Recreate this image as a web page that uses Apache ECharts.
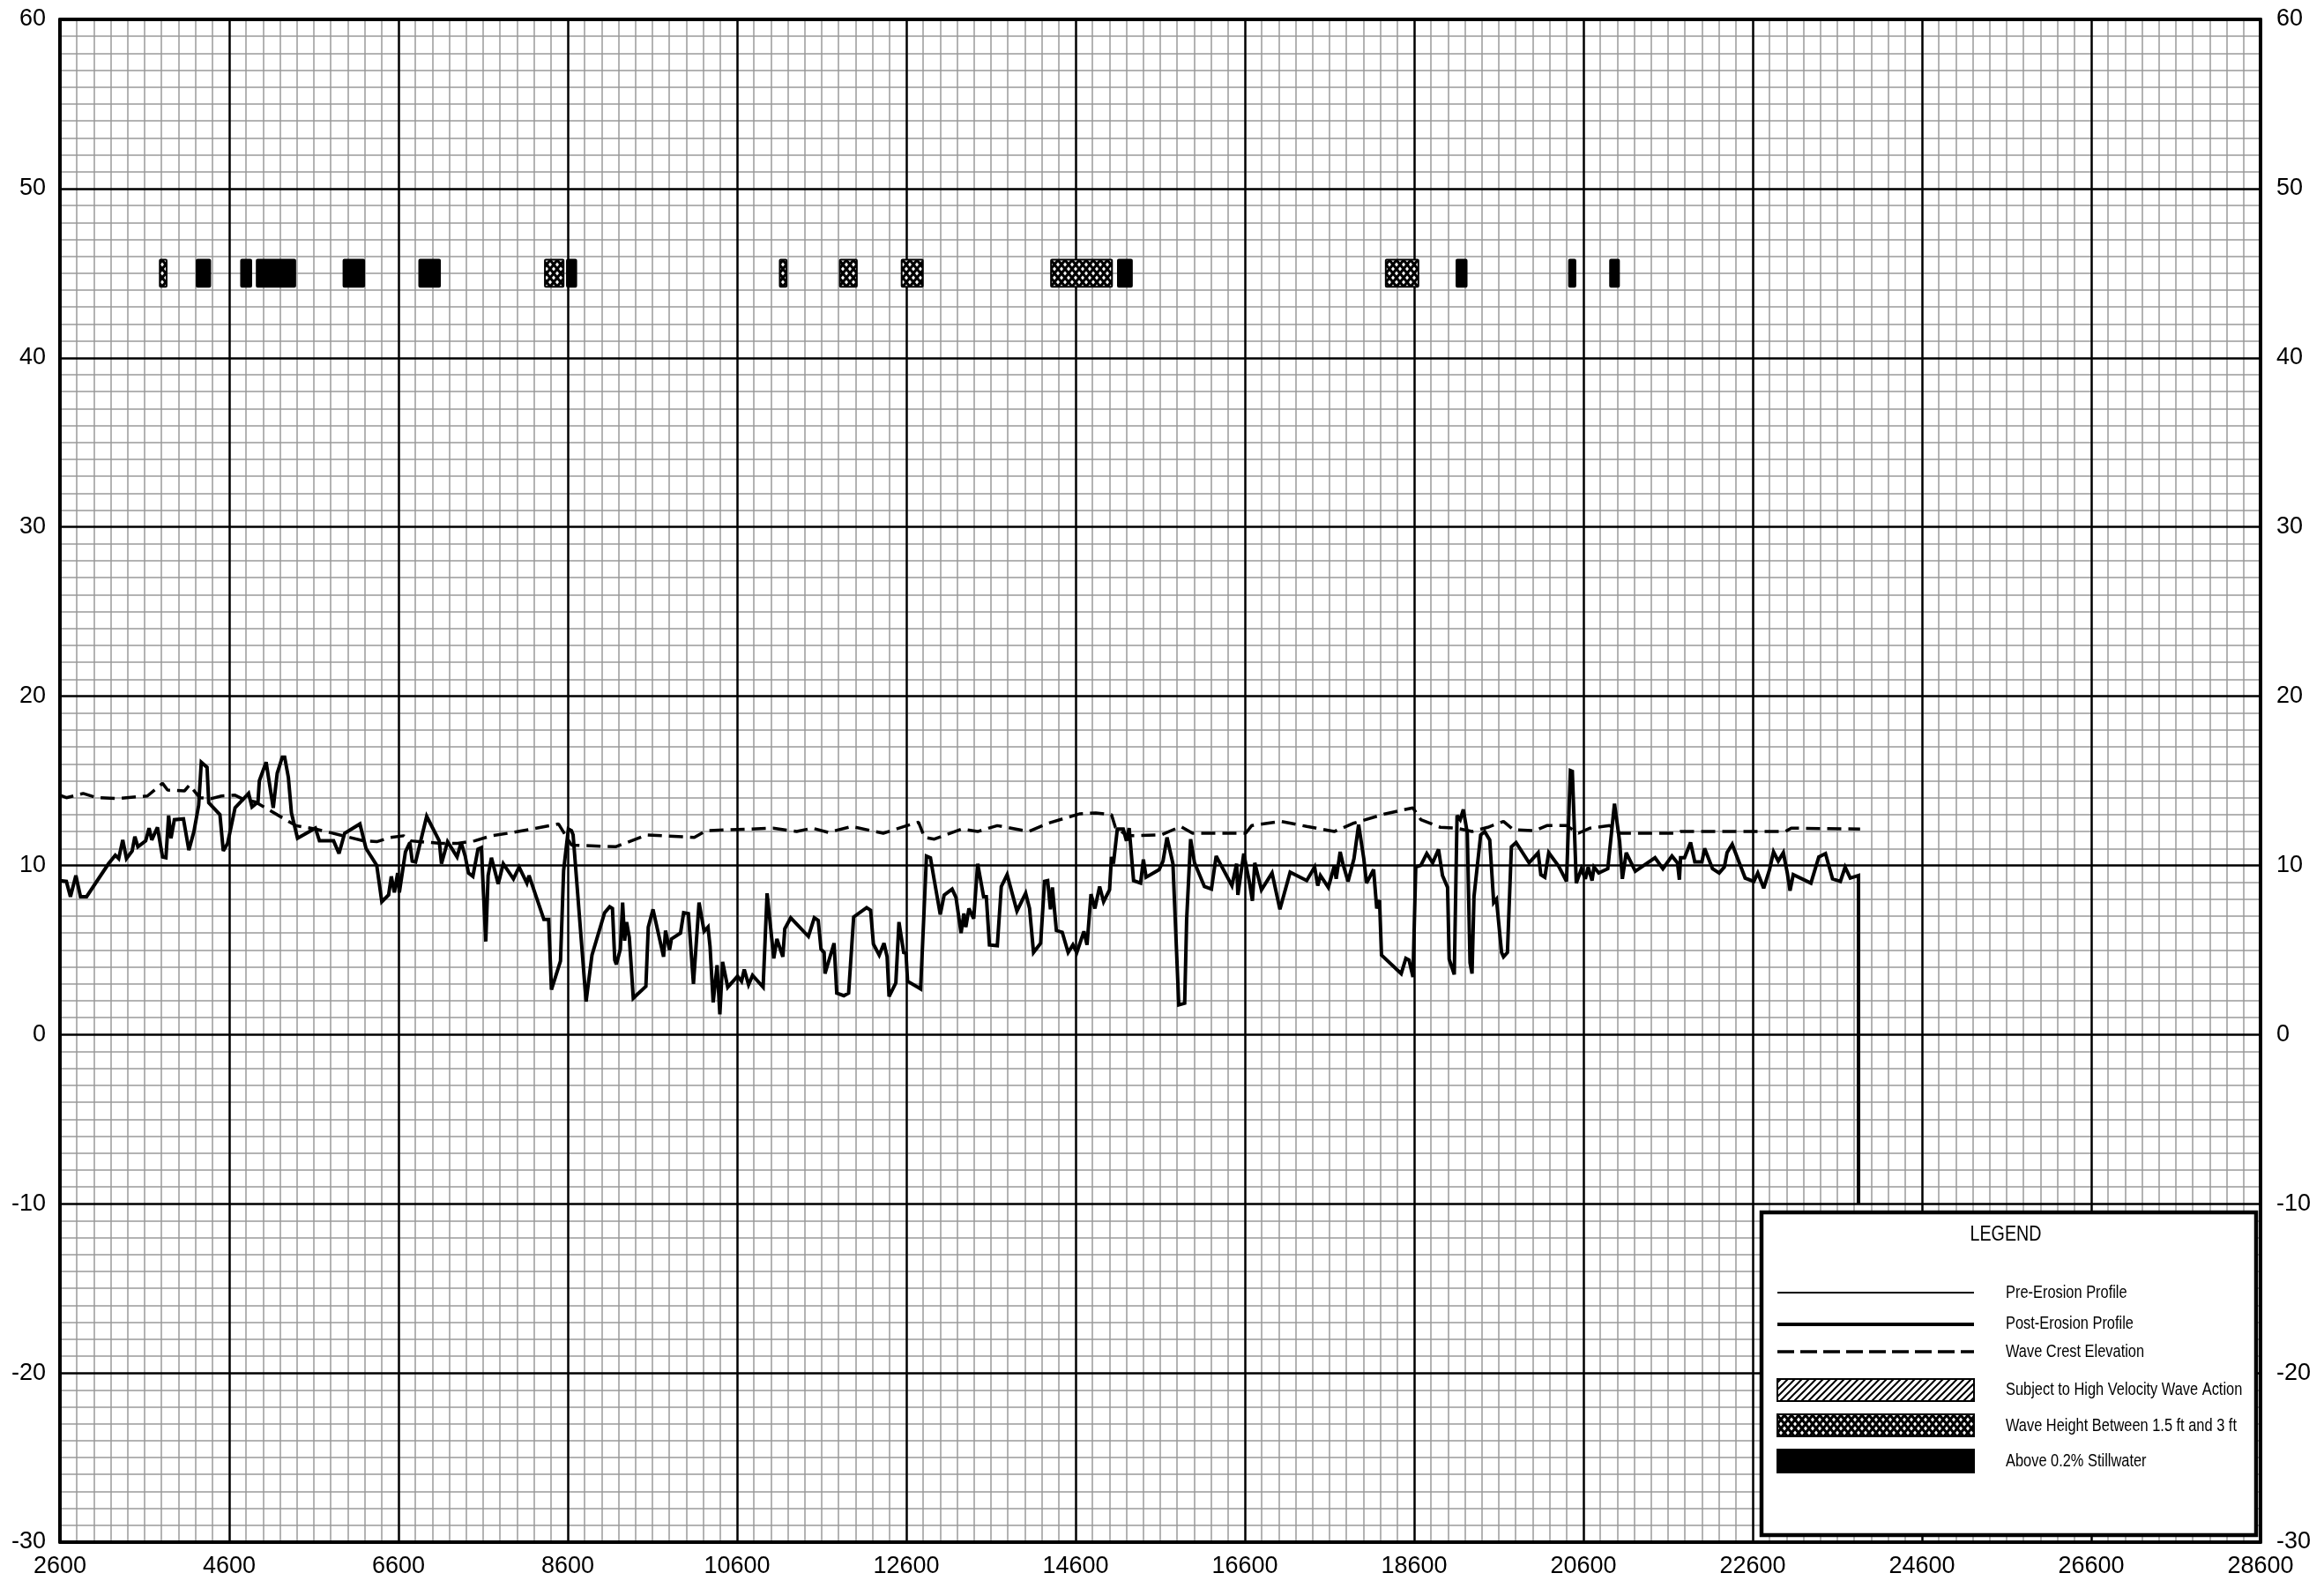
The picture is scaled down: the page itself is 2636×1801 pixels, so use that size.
<!DOCTYPE html>
<html><head><meta charset="utf-8">
<script src="https://cdn.jsdelivr.net/npm/echarts@6/dist/echarts.min.js"></script>
<style>html,body{margin:0;padding:0;background:#fff}#c{width:2636px;height:1801px}</style>
</head><body><div id="c"></div>
<script>
// ---------- DATA ----------
const xRange = [2600, 28600];
const yRange = [-30, 60];
const xStep = 2000;
const yStep = 10;

const postErosion = [
[2600,9.1],[2676,9.05],[2724,8.15],[2788,9.4],[2843,8.15],[2915,8.15],[3174,10.1],[3254,10.6],[3294,10.4],[3342,11.5],
[3386,10.4],[3453,10.85],[3485,11.7],[3521,11.1],[3613,11.45],[3653,12.2],[3685,11.5],[3752,12.25],[3812,10.5],[3852,10.45],
[3884,12.95],[3912,11.6],[3952,12.7],[4059,12.75],[4123,10.9],[4183,12.0],[4239,13.55],[4270,16.1],[4338,15.8],[4358,13.7],
[4490,13.0],[4530,10.85],[4581,11.3],[4669,13.4],[4829,14.25],[4869,13.45],[4940,13.75],[4956,15.0],[5036,16.1],[5120,13.4],
[5167,15.45],[5227,16.4],[5255,16.4],[5299,15.2],[5335,13.1],[5407,11.6],[5618,12.2],[5666,11.45],[5833,11.45],[5897,10.7],
[5964,11.9],[6144,12.45],[6216,11.0],[6343,10.0],[6403,7.85],[6483,8.25],[6515,9.35],[6551,8.4],[6590,9.55],[6610,8.4],
[6682,10.8],[6734,11.35],[6762,10.25],[6802,10.2],[6933,12.9],[7081,11.45],[7108,10.1],[7180,11.4],[7292,10.5],[7340,11.35],
[7388,10.55],[7427,9.55],[7479,9.35],[7539,10.95],[7579,11.05],[7631,5.5],[7659,9.4],[7698,10.45],[7778,8.9],[7838,10.1],
[7958,9.2],[8025,9.9],[8117,8.95],[8142,9.4],[8318,6.8],[8374,6.8],[8407,2.65],[8514,4.35],[8551,9.7],[8607,12.15],
[8644,12.05],[8663,11.8],[8816,1.95],[8886,4.7],[9035,7.2],[9095,7.55],[9128,7.45],[9155,4.4],[9174,4.15],[9221,5.05],
[9248,7.8],[9272,5.55],[9295,6.65],[9327,5.75],[9374,2.15],[9523,2.85],[9551,6.35],[9607,7.4],[9732,4.6],[9755,6.15],
[9802,5.0],[9825,5.65],[9932,6.0],[9969,7.2],[10025,7.15],[10085,3.0],[10151,7.8],[10211,6.1],[10257,6.35],[10281,5.2],
[10318,1.9],[10364,4.1],[10397,1.2],[10429,4.3],[10490,2.8],[10606,3.45],[10653,3.15],[10685,3.85],[10736,2.95],[10783,3.5],
[10908,2.8],[10955,8.35],[11034,4.5],[11071,5.65],[11141,4.6],[11164,6.25],[11234,6.9],[11443,5.8],[11513,6.9],[11559,6.75],
[11592,5.05],[11629,4.85],[11639,3.6],[11746,5.4],[11778,2.45],[11862,2.3],[11918,2.45],[11978,6.95],[12131,7.5],[12178,7.35],
[12211,5.35],[12280,4.7],[12336,5.4],[12373,4.6],[12396,2.25],[12476,3.05],[12513,6.65],[12569,4.85],[12596,4.8],[12615,3.15],
[12769,2.7],[12838,10.55],[12885,10.45],[12931,9.1],[13001,7.1],[13047,8.25],[13141,8.6],[13187,8.1],[13247,6.0],[13280,7.15],
[13303,6.35],[13340,7.45],[13396,6.85],[13443,10.1],[13513,8.15],[13545,8.15],[13582,5.3],[13675,5.25],[13722,8.75],[13791,9.45],
[13907,7.3],[14010,8.35],[14056,7.45],[14103,4.85],[14187,5.4],[14233,9.05],[14270,9.1],[14303,7.4],[14326,8.7],[14373,6.15],
[14442,6.05],[14512,4.85],[14568,5.3],[14614,4.85],[14698,6.1],[14735,5.3],[14782,8.3],[14828,7.45],[14884,8.75],[14931,7.85],
[15001,8.55],[15024,10.5],[15047,10.1],[15093,12.15],[15163,12.15],[15201,11.45],[15233,12.2],[15285,9.1],[15368,8.95],[15401,10.35],
[15433,9.3],[15587,9.75],[15633,10.25],[15680,11.65],[15750,10.1],[15819,1.75],[15889,1.85],[15912,6.8],[15959,11.55],[16005,10.15],
[16122,8.75],[16205,8.6],[16261,10.55],[16447,8.8],[16503,10.1],[16517,8.25],[16587,10.7],[16656,8.95],[16689,7.9],[16717,10.15],
[16796,8.55],[16921,9.55],[17014,7.4],[17135,9.6],[17331,9.1],[17424,9.9],[17461,8.8],[17493,9.4],[17586,8.7],[17656,9.95],
[17679,9.2],[17726,10.8],[17758,10.1],[17819,9.05],[17889,10.4],[17944,12.4],[18005,10.4],[18037,8.95],[18121,9.75],[18158,7.45],
[18191,7.95],[18214,4.7],[18447,3.6],[18502,4.5],[18540,4.4],[18586,3.4],[18619,9.9],[18679,10.0],[18749,10.7],[18819,10.15],
[18888,10.95],[18935,9.4],[18995,8.7],[19014,4.45],[19074,3.55],[19107,12.95],[19144,12.7],[19181,13.3],[19228,11.9],[19260,4.25],
[19284,3.6],[19307,8.15],[19386,11.8],[19433,12.0],[19493,11.5],[19540,7.8],[19572,8.0],[19633,4.85],[19656,4.6],[19702,4.85],
[19749,11.1],[19804,11.35],[19958,10.15],[20065,10.75],[20097,9.45],[20144,9.3],[20190,10.75],[20307,9.95],[20400,9.05],[20446,15.6],
[20469,15.55],[20516,8.95],[20576,9.8],[20623,9.2],[20656,9.9],[20702,9.1],[20725,9.9],[20781,9.55],[20888,9.8],[20967,13.65],
[21028,11.4],[21060,9.2],[21106,10.75],[21213,9.65],[21446,10.45],[21539,9.8],[21646,10.55],[21711,10.15],[21734,9.15],[21748,10.45],
[21795,10.45],[21866,11.35],[21916,10.2],[22000,10.2],[22032,11.0],[22125,9.8],[22204,9.55],[22265,9.9],[22297,10.75],[22358,11.25],
[22511,9.25],[22613,9.05],[22660,9.55],[22730,8.65],[22799,9.75],[22846,10.8],[22902,10.25],[22962,10.75],[23009,9.55],[23041,8.5],
[23079,9.45],[23288,8.95],[23381,10.5],[23460,10.7],[23543,9.2],[23636,9.05],[23692,9.9],[23753,9.25],[23850,9.4],[23850,-10]
];

const waveCrest = [
[2600,14.15],[2676,14.0],[2875,14.25],[3035,14.0],[3274,13.95],[3633,14.1],[3812,14.85],[3872,14.45],[4071,14.4],[4131,14.75],
[4251,14.0],[4390,13.95],[4510,14.1],[4669,14.15],[4769,13.9],[4908,13.75],[5387,12.35],[5618,12.15],[5945,11.75],[6184,11.45],
[6343,11.4],[6503,11.65],[6662,11.75],[6742,11.45],[7100,11.3],[7300,11.3],[7500,11.45],[7699,11.75],[7898,11.9],[8177,12.15],
[8490,12.45],[8644,11.2],[9165,11.1],[9537,11.8],[10095,11.65],[10234,12.05],[11025,12.2],[11304,12.0],[11490,12.2],[11676,11.95],
[11955,12.3],[12327,11.9],[12606,12.35],[12745,12.55],[12815,11.65],[12931,11.55],[13257,12.15],[13443,12.0],[13675,12.35],[14047,12.0],
[14280,12.5],[14652,13.05],[14838,13.1],[15024,13.0],[15070,12.25],[15210,11.75],[15610,11.8],[15843,12.3],[15982,11.9],[16610,11.9],
[16680,12.35],[17028,12.6],[17331,12.3],[17656,12.0],[17889,12.5],[18261,13.05],[18586,13.4],[18679,12.7],[18912,12.25],[19098,12.2],
[19284,12.0],[19470,12.25],[19656,12.6],[19773,12.1],[20028,12.05],[20168,12.35],[20400,12.35],[20540,11.9],[20679,12.2],[20912,12.35],
[21028,11.9],[21702,11.9],[21748,12.0],[22985,12.0],[23055,12.2],[23869,12.15]
];

// zone bars: [start, end]
const zoneBand = [44.2, 45.8];
const waveHeightZones = [[3780,3860],[8330,8550],[11105,11185],[11815,12015],[12545,12795],[14310,15030],[18265,18650]];
const stillwaterZones = [[4215,4375],[4740,4860],[4925,5380],[5950,6195],[6845,7090],[8590,8700],[15100,15265],[19100,19220],[20430,20505],[20915,21020]];

const legendTitle = 'LEGEND';
const legendLabels = ['Pre-Erosion Profile','Post-Erosion Profile','Wave Crest Elevation','Subject to High Velocity Wave Action','Wave Height Between 1.5 ft and 3 ft','Above 0.2% Stillwater'];

// ---------- PATTERNS ----------
function crossTile(){
  const c = document.createElement('canvas'); c.width = 8; c.height = 10;
  const g = c.getContext('2d');
  g.fillStyle = '#000'; g.fillRect(0,0,8,10);
  g.fillStyle = '#fff';
  const dia = (cx,cy)=>{ g.beginPath(); g.moveTo(cx-2,cy); g.lineTo(cx,cy-2.6); g.lineTo(cx+2,cy); g.lineTo(cx,cy+2.6); g.closePath(); g.fill(); };
  dia(4,5); dia(0,0); dia(8,0); dia(0,10); dia(8,10);
  return c;
}
function hatchTile(){
  const c = document.createElement('canvas'); c.width = 8; c.height = 8;
  const g = c.getContext('2d');
  g.fillStyle = '#fff'; g.fillRect(0,0,8,8);
  g.strokeStyle = '#000'; g.lineWidth = 2;
  g.beginPath();
  g.moveTo(-2,10); g.lineTo(10,-2);
  g.moveTo(-6,6); g.lineTo(6,-6);
  g.moveTo(2,14); g.lineTo(14,2);
  g.stroke();
  return c;
}
const crossPattern = {image: crossTile(), repeat: 'repeat'};
const hatchPattern = {image: hatchTile(), repeat: 'repeat'};

const FONT = "'Liberation Sans',Arial,sans-serif";

const chart = echarts.init(document.getElementById('c'), null, {renderer: 'canvas'});

function zoneData(list, kind){ return list.map(z => [z[0], z[1], zoneBand[0], zoneBand[1], kind]); }

function renderZone(params, api){
  const p0 = api.coord([api.value(0), api.value(3)]);
  const p1 = api.coord([api.value(1), api.value(2)]);
  const kind = api.value(4);
  const fill = kind === 1 ? crossPattern : (kind === 2 ? hatchPattern : '#000');
  return {type: 'rect', shape: {x: p0[0], y: p0[1], width: p1[0]-p0[0], height: p1[1]-p0[1], r: 1},
    style: {fill: fill, stroke: '#000', lineWidth: 2}};
}

const axisLineStyle = {show: true, onZero: false, lineStyle: {color: '#000', width: 4}};
const labelStyle = {color: '#000', fontSize: 27, fontFamily: FONT};

// legend graphics
const LX = 2016, LW = 223, TX = 2275;
const legendGraphics = [
  {type:'rect', shape:{x:1998, y:1375, width:561, height:366}, style:{fill:'#fff', stroke:'#000', lineWidth:4.5}, z:10},
  {type:'text', x:2275, y:1400, scaleX:0.82, style:{text: legendTitle, font: '24px '+FONT, fill:'#000', align:'center', verticalAlign:'middle'}, z:11},
  {type:'line', shape:{x1:LX, y1:1466, x2:LX+LW, y2:1466}, style:{stroke:'#000', lineWidth:2}, z:11},
  {type:'line', shape:{x1:LX, y1:1502, x2:LX+LW, y2:1502}, style:{stroke:'#000', lineWidth:4}, z:11},
  {type:'line', shape:{x1:LX, y1:1533, x2:LX+LW, y2:1533}, style:{stroke:'#000', lineWidth:3.5, lineDash:[19,7]}, z:11},
  {type:'rect', shape:{x:LX, y:1564, width:LW, height:25}, style:{fill:hatchPattern, stroke:'#000', lineWidth:2}, z:11},
  {type:'rect', shape:{x:LX, y:1604, width:LW, height:25}, style:{fill:crossPattern, stroke:'#000', lineWidth:2}, z:11},
  {type:'rect', shape:{x:LX, y:1644, width:LW, height:26}, style:{fill:'#000', stroke:'#000', lineWidth:2}, z:11}
];
const textYs = [1466, 1501, 1533, 1576, 1617, 1657];
legendLabels.forEach((t,i)=>{
  legendGraphics.push({type:'text', x:TX, y:textYs[i], scaleX:0.8, style:{text:t, font:'20.5px '+FONT, fill:'#000', align:'left', verticalAlign:'middle'}, z:11});
});

chart.setOption({
  animation: false,
  backgroundColor: '#fff',
  grid: {left: 68, right: 72, top: 22, bottom: 52, containLabel: false},
  xAxis: [
    {type:'value', position:'bottom', min:xRange[0], max:xRange[1], interval:xStep,
     axisLine: axisLineStyle, axisTick:{show:false},
     axisLabel: Object.assign({margin: 14, showMinLabel:true, showMaxLabel:true, formatter: v => String(v)}, labelStyle),
     splitLine:{show:false},
     minorTick:{show:false, splitNumber:10},
     minorSplitLine:{show:true, lineStyle:{color:'#9a9a9a', width:1.5}}, z:0},
    {type:'value', position:'top', min:xRange[0], max:xRange[1], interval:xStep,
     axisLine: axisLineStyle, axisTick:{show:false}, axisLabel:{show:false},
     splitLine:{show:true, lineStyle:{color:'#000', width:2.5}}, z:1}
  ],
  yAxis: [
    {type:'value', position:'left', min:yRange[0], max:yRange[1], interval:yStep,
     axisLine: axisLineStyle, axisTick:{show:false},
     axisLabel: Object.assign({margin: 16, formatter: v => String(v)}, labelStyle),
     splitLine:{show:false},
     minorTick:{show:false, splitNumber:10},
     minorSplitLine:{show:true, lineStyle:{color:'#9a9a9a', width:1.5}}, z:0},
    {type:'value', position:'right', min:yRange[0], max:yRange[1], interval:yStep,
     axisLine: axisLineStyle, axisTick:{show:false},
     axisLabel: Object.assign({margin: 18, formatter: v => String(v)}, labelStyle),
     splitLine:{show:true, lineStyle:{color:'#000', width:2.5}}, z:1}
  ],
  series: [
    {name:'Wave Crest Elevation', type:'line', data: waveCrest, showSymbol:false, symbol:'none',
     lineStyle:{color:'#000', width:3.5, type:[16,8]}, z:3},
    {name:'Post-Erosion Profile', type:'line', data: postErosion, showSymbol:false, symbol:'none',
     lineStyle:{color:'#000', width:4, join:'miter', miterLimit:3}, z:4},
    {name:'Wave Height Between 1.5 ft and 3 ft', type:'custom', renderItem: renderZone,
     data: zoneData(waveHeightZones, 1), encode:{x:[0,1], y:[2,3]}, z:5},
    {name:'Above 0.2% Stillwater', type:'custom', renderItem: renderZone,
     data: zoneData(stillwaterZones, 0), encode:{x:[0,1], y:[2,3]}, z:5}
  ],
  graphic: legendGraphics
});
</script></body></html>
